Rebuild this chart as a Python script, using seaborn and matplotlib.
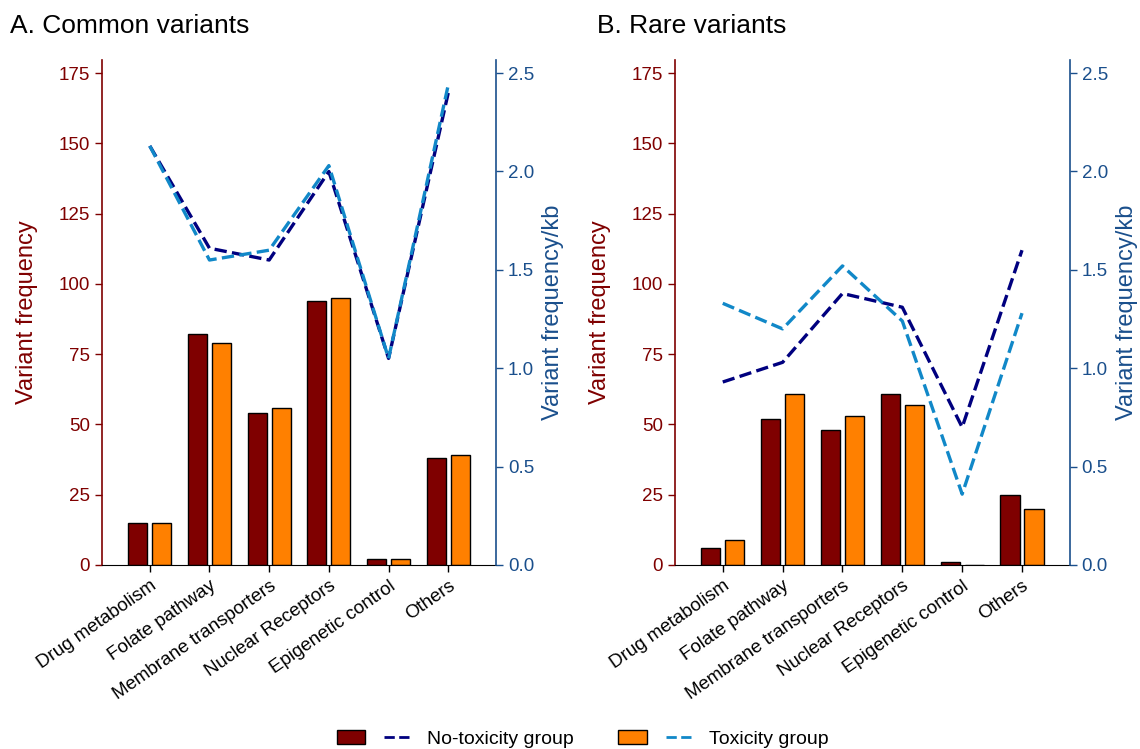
import numpy as np
import pandas as pd
import matplotlib.pyplot as plt
import seaborn as sns
from matplotlib.patches import Patch
from matplotlib.lines import Line2D
from matplotlib.legend_handler import HandlerTuple

# --- Data ---
categories = ["Drug metabolism", "Folate pathway", "Membrane transporters",
              "Nuclear Receptors", "Epigenetic control", "Others"]
groups = ["No-toxicity group", "Toxicity group"]

common_count_notox = [15, 82, 54, 94, 2, 38]
common_count_tox = [15, 79, 56, 95, 2, 39]
common_kb_notox = [2.13, 1.61, 1.55, 2.00, 1.05, 2.40]
common_kb_tox = [2.13, 1.55, 1.60, 2.03, 1.05, 2.44]

rare_count_notox = [6, 52, 48, 61, 1, 25]
rare_count_tox = [9, 61, 53, 57, 0, 20]
rare_kb_notox = [0.93, 1.03, 1.38, 1.31, 0.70, 1.60]
rare_kb_tox = [1.33, 1.20, 1.52, 1.24, 0.36, 1.28]

# --- Style ---
red = "#7f0000"
orange = "#ff8000"
navy = "#00007f"
light_blue = "#1188c8"
axis_blue = "#1a4f8c"

sns.set_style("white")
plt.rcParams["font.family"] = ["Liberation Sans", "DejaVu Sans"]
plt.rcParams["text.color"] = "black"
plt.rcParams["xtick.color"] = "black"
plt.rcParams["axes.labelcolor"] = "black"

TICK_FS = 13.5


def draw_panel(ax, count_a, count_b, kb_a, kb_b):
    bars = pd.DataFrame({
        "category": categories * 2,
        "group": [g for g in groups for _ in categories],
        "count": count_a + count_b,
    })
    sns.barplot(data=bars, x="category", y="count", hue="group",
                palette=[red, orange], saturation=1, width=0.8, gap=0.2,
                edgecolor="black", linewidth=1.0, ax=ax, legend=False)

    lines = pd.DataFrame({
        "pos": list(range(len(categories))) * 2,
        "group": [g for g in groups for _ in categories],
        "kb": kb_a + kb_b,
    })
    ax2 = ax.twinx()
    sns.lineplot(data=lines, x="pos", y="kb", hue="group",
                 palette=[navy, light_blue], linestyle="--", linewidth=2.4,
                 ax=ax2, legend=False)

    ax.set_xlim(-0.8, len(categories) - 0.2)
    ax.set_ylim(0, 179.6)
    ax.set_yticks(np.arange(0, 176, 25))
    ax2.set_ylim(0, 2.566)
    ax2.set_yticks(np.arange(0, 2.51, 0.5))

    ax.set_xlabel("")
    ax.set_xticks(range(len(categories)))
    ax.set_xticklabels(categories, rotation=35, ha="right",
                       rotation_mode="anchor", fontsize=TICK_FS,
                       color="black")
    ax.tick_params(axis="x", direction="out", length=5, width=1,
                   color="black", bottom=True, pad=4)
    ax.tick_params(axis="y", direction="out", length=5, width=1,
                   color=red, labelcolor=red, labelsize=TICK_FS, left=True)
    ax.set_ylabel("Variant frequency", color=red, fontsize=17, labelpad=15)

    ax2.set_ylabel("Variant frequency/kb", color=axis_blue, fontsize=17,
                   labelpad=6)
    ax2.tick_params(axis="y", direction="out", length=5, width=1,
                    color=axis_blue, labelcolor=axis_blue,
                    labelsize=TICK_FS, right=True)
    ax2.set_xlabel("")

    for sp in ["top", "right"]:
        ax.spines[sp].set_visible(False)
    ax.spines["left"].set_color(red)
    ax.spines["bottom"].set_color("black")
    for sp in ["top", "left", "bottom"]:
        ax2.spines[sp].set_visible(False)
    ax2.spines["right"].set_color(axis_blue)
    ax2.spines["right"].set_linewidth(1.2)
    ax.spines["left"].set_linewidth(1.2)


fig = plt.figure(figsize=(11.4, 7.49), dpi=100)
ax_a = fig.add_axes([0.0895, 0.2457, 0.3456, 0.674])
ax_b = fig.add_axes([0.592, 0.2457, 0.3465, 0.674])

draw_panel(ax_a, common_count_notox, common_count_tox,
           common_kb_notox, common_kb_tox)
draw_panel(ax_b, rare_count_notox, rare_count_tox,
           rare_kb_notox, rare_kb_tox)

fig.text(0.009, 0.965, "A. Common variants", fontsize=19, va="center")
fig.text(0.524, 0.965, "B. Rare variants", fontsize=19, va="center")

handles = [
    (Patch(facecolor=red, edgecolor="black", linewidth=1),
     Line2D([0], [0], color=navy, linestyle="--", linewidth=2)),
    (Patch(facecolor=orange, edgecolor="black", linewidth=1),
     Line2D([0], [0], color=light_blue, linestyle="--", linewidth=2)),
]
fig.legend(handles, groups, loc="center", bbox_to_anchor=(0.511, 0.0134),
           ncol=2, frameon=False, fontsize=14, handlelength=3.9,
           handleheight=0.7, handletextpad=0.75, columnspacing=2.3,
           handler_map={tuple: HandlerTuple(ndivide=None, pad=0.95)})

fig.savefig("out.png", dpi=100)
